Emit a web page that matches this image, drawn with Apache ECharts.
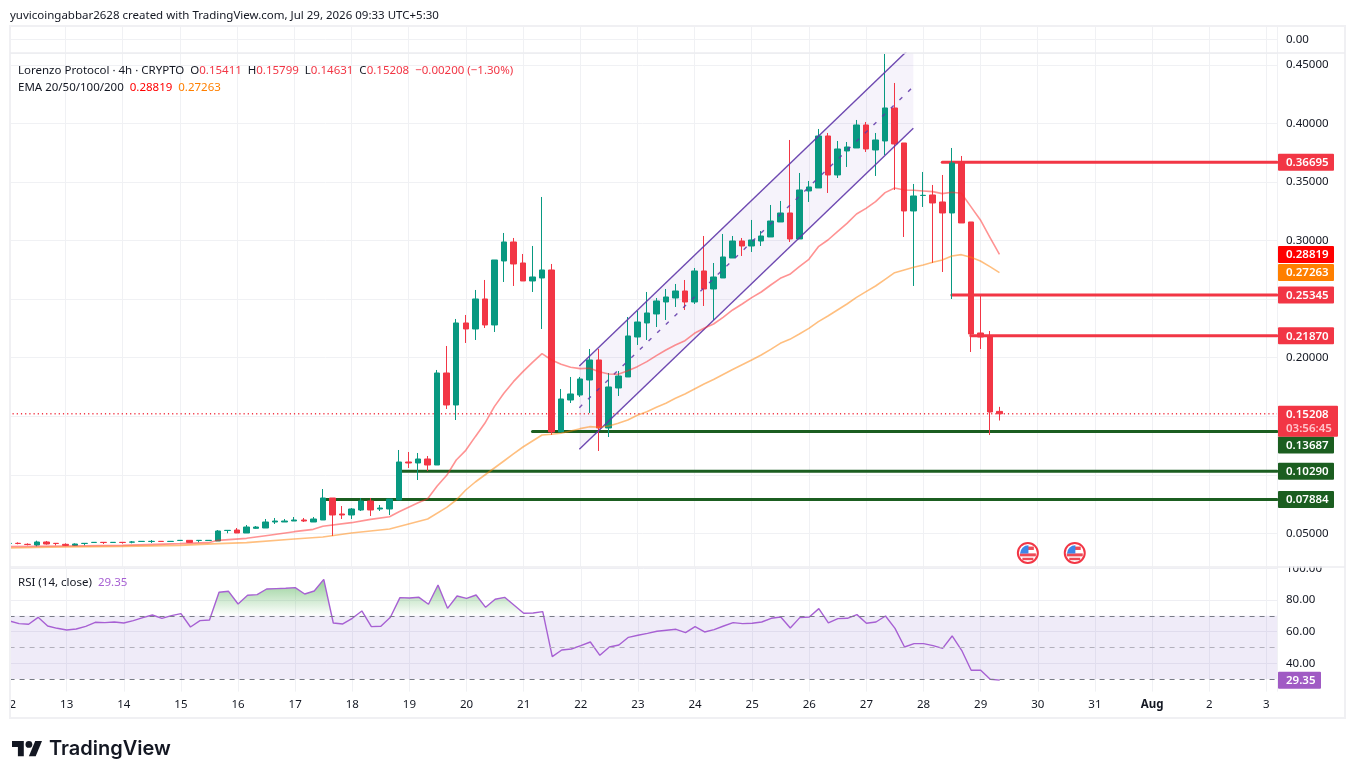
<!DOCTYPE html>
<html><head><meta charset="utf-8"><title>Lorenzo Protocol</title>
<style>html,body{margin:0;padding:0;background:#fff}#c{width:1355px;height:779px}</style>
<script src="https://cdn.jsdelivr.net/npm/echarts@6/dist/echarts.min.js"></script></head>
<body><div id="c"></div>
<script>
const opens=[.0413,.04143,.04058,.04000,.04257,.04143,.04058,.03972,.04130,.04215,.04228,.04215,.04228,.04245,.04300,.04300,.04313,.04300,.04385,.04399,.04385,.04385,.04342,.05240,.05281,.05025,.05424,.05452,.05965,.05965,.06050,.06136,.05965,.06136,.08015,.06648,.06563,.06990,.07758,.07075,.07075,.07844,.11089,.11004,.11346,.10833,.18691,.15958,.22962,.22449,.25012,.22791,.28258,.29880,.28087,.26549,.26806,.27489,.13652,.16385,.16812,.18093,.19802,.13994,.17410,.18350,.21766,.22962,.23731,.24756,.25097,.25694,.24755,.27403,.25865,.26805,.28513,.29965,.29538,.29965,.30307,.31588,.32357,.30136,.34236,.34492,.38933,.35602,.37652,.37909,.39873,.37738,.38506,.41325,.38336,.32528,.33850,.33894,.33296,.32357,.36627,.31588,.22107,.21765,.15411];
const closes=[.0414,.04130,.04045,.04257,.04085,.04130,.03972,.04085,.04143,.04228,.04215,.04228,.04215,.04257,.04313,.04313,.04300,.04313,.04399,.04228,.04399,.04399,.05196,.05253,.05025,.05537,.05537,.05965,.06050,.06050,.06136,.06050,.06221,.08015,.06563,.06563,.07075,.07758,.06990,.07160,.07929,.11089,.11004,.11346,.10833,.18691,.15958,.22962,.22449,.25012,.22791,.28343,.29880,.28001,.26549,.26891,.27489,.13652,.16471,.16898,.18179,.19802,.13994,.17496,.18435,.21852,.23047,.23816,.24841,.25183,.25695,.24755,.27403,.25865,.26890,.28599,.29965,.29538,.30051,.30392,.31673,.32357,.30136,.34321,.34577,.38933,.35602,.37823,.37994,.39873,.37823,.38592,.41325,.38250,.32528,.33809,.33866,.33211,.32357,.36627,.31503,.22022,.21765,.15359,.15208];
const lows=[.0406,.04058,.03972,.03886,.04029,.03972,.03915,.03915,.03972,.04215,.04085,.04215,.04114,.04143,.04300,.04171,.04300,.04300,.04385,.04228,.04228,.04385,.04342,.05003,.05025,.05025,.05367,.05452,.05794,.05965,.06050,.05965,.05965,.06136,.04769,.06221,.06221,.06904,.06477,.06904,.06563,.07844,.10577,.09552,.10321,.10833,.15616,.14677,.21254,.21510,.22535,.22193,.26464,.26122,.26549,.25610,.22449,.13396,.13652,.16129,.16641,.15275,.12029,.13225,.16727,.18350,.21083,.21510,.22620,.23218,.24329,.24072,.24584,.24413,.23217,.26805,.28513,.28684,.29026,.29538,.30307,.31588,.29880,.30136,.33296,.34492,.34065,.35346,.36286,.37909,.37567,.35517,.37311,.34321,.30307,.26122,.32869,.28086,.27317,.25011,.31503,.20484,.20741,.13395,.14631];
const highs=[.0417,.04228,.04143,.04370,.04342,.04143,.04143,.04143,.04143,.04228,.04228,.04228,.04228,.04342,.04313,.04427,.04313,.04313,.04399,.04399,.04399,.04399,.05281,.05281,.05452,.05708,.05623,.06221,.06307,.06221,.06392,.06307,.06392,.08783,.08015,.07331,.07160,.08015,.08015,.07417,.07929,.12114,.11944,.11858,.11602,.18948,.20997,.23304,.23645,.25781,.26635,.28343,.30649,.30222,.28855,.29539,.33724,.28001,.17325,.18350,.18350,.20741,.20741,.18691,.18862,.23474,.23987,.25610,.25097,.25866,.26293,.26634,.27659,.30392,.28086,.30563,.30392,.30221,.31759,.30819,.33040,.33382,.38592,.35773,.35090,.39531,.39190,.38506,.38421,.40300,.40129,.39190,.45937,.43460,.38336,.34834,.35859,.34748,.35602,.37909,.37225,.31588,.25267,.22278,.15799];

const ema20Slots=[0,6,12,18,21,22,25,27,30,32,33,36,38,40,41,43,44,45,46,47,48,49,50,51,52,53,54,55,56,57,58,59,60,61,62,63,64,65,66,67,68,69,70,71,72,73,74,75,76,77,78,79,80,81,82,83,84,85,86,87,88,89,90,91,92,93,94,95,96,97,98,99,100,101,102,103,104];
const ema20Values=[.03858,.03915,.03972,.04114,.04200,.04399,.04570,.04797,.05139,.05338,.05595,.05908,.06192,.06420,.06847,.07616,.07958,.09040,.09951,.11260,.12086,.13253,.14392,.15816,.16955,.17951,.18805,.19602,.20343,.19802,.19432,.19175,.19061,.19090,.18805,.18606,.18577,.18891,.19232,.19659,.20172,.20656,.21083,.21452,.22079,.22506,.22876,.23445,.24072,.24584,.25125,.25609,.26207,.26776,.27118,.27773,.28399,.29481,.30051,.30762,.31474,.32271,.32755,.33325,.34093,.34492,.34321,.34293,.34236,.34179,.34008,.34122,.34036,.32898,.31759,.30278,.28819];
const ema50Slots=[0,6,12,18,22,25,30,33,36,40,44,46,47,48,49,50,51,52,53,54,55,56,57,58,59,60,61,62,63,64,65,66,67,68,69,70,71,72,73,74,75,76,77,78,79,80,81,82,83,84,85,86,87,88,89,90,91,92,93,94,95,96,97,98,99,100,101,102,103,104];
const ema50Values=[.03744,.03829,.03886,.03972,.04114,.04200,.04513,.04684,.05025,.05367,.06221,.07217,.07844,.08698,.09381,.09979,.10577,.11175,.11774,.12371,.12883,.13396,.13453,.13538,.13737,.13937,.14107,.14051,.14164,.14392,.14677,.15075,.15389,.15759,.16100,.16527,.16898,.17325,.17752,.18136,.18563,.18982,.19401,.19802,.20229,.20712,.21225,.21566,.22022,.22506,.23075,.23559,.24072,.24584,.25154,.25638,.26122,.26691,.27260,.27488,.27716,.27915,.28143,.28342,.28684,.28798,.28570,.28257,.27773,.27263];
const rsiValues=[66.73,65.05,64.63,69.05,63.57,62.10,61.05,61.68,63.36,65.89,65.68,66.10,65.47,66.94,68.84,70.53,68.42,70.10,71.37,62.94,66.94,67.37,84.85,85.48,77.48,82.95,83.37,86.95,87.17,87.38,87.80,83.79,85.69,93.06,65.47,64.84,68.42,73.05,63.15,63.36,69.05,81.48,81.27,81.69,77.27,89.48,74.74,82.53,81.06,83.16,75.37,80.43,81.69,76.63,71.58,71.79,72.63,44.20,48.41,49.04,51.15,53.46,45.04,50.30,51.57,56.41,57.68,58.94,60.21,60.84,61.47,59.36,63.15,59.78,61.26,63.57,65.68,65.05,65.26,66.10,68.42,69.26,62.31,68.84,69.26,74.53,65.47,68.21,68.42,70.74,65.26,66.10,69.89,62.10,50.30,52.41,52.41,51.15,49.46,57.26,48.20,35.56,35.56,29.87,29.35];

const resistanceLevels=[.36695,.25345,.21870];
const resistanceSlots=[98,99,101];
const supportLevels=[.13687,.10290,.07884];
const supportSlots=[55,41,33];
const channelDays=[21.986,27.827];
const channelLow=[.12175,.39592];
const channelMid=[.15732,.43149];
const channelHigh=[.19289,.46706];
const eventDays=[29.83,30.65];
const eventLevel=.0332;
const priceGrid=[.05,.10,.15,.20,.25,.30,.35,.40,.45];
const priceLabels=[.05,.20,.30,.35,.40,.45];
const rsiTicks=[40,60,80,100];
const rsiBand=[30,70];
const rsiMid=50;
const lastClose=.15208, lastEma20=.28819, lastEma50=.27263, lastRsi=29.35;
const countdown='03:56:45';

const FONT='"Noto Sans"';
const FS=11.5;
const GRID='#f0f1f4';
const UP='#089981',DOWN='#f23645',DARKGREEN='#1b5e20';
const MINX=12,MAXX=34.187;
const day=i=>12+i/6;
const pairs=(s,v)=>s.map((k,i)=>[day(k),v[i]]);

const dayLabel=v=>{
  if(!Number.isInteger(v))return '';
  if(v===32)return '{b|Aug}';
  return String(v>32?v-31:v);
};
const xAxis=(g,labels)=>({type:'value',gridIndex:g,min:MINX,max:MAXX,interval:1,
  axisLine:{show:false},axisTick:{show:false},
  splitLine:{show:true,lineStyle:{color:GRID,width:1}},
  axisLabel:labels?{show:true,margin:7,color:'#131722',fontFamily:FONT,fontSize:FS,showMaxLabel:false,formatter:dayLabel,
    rich:{b:{fontFamily:FONT,fontSize:FS,fontWeight:'bold',color:'#131722'}}}:{show:false}});

const fx=(v,d)=>v.toFixed(d);
const tagFont='600 '+FS+'px '+FONT;
function tagItem(p,dy,w,color,text){
  return {type:'group',children:[
    {type:'rect',shape:{x:p[0]+1,y:p[1]-8.5+dy,width:w,height:17,r:1},style:{fill:color}},
    {type:'text',style:{text,x:p[0]+9,y:p[1]+dy+.5,fill:'#fff',font:tagFont,verticalAlign:'middle',textAlign:'left'}}
  ]};
}
const priceTags=[
  {v:resistanceLevels[0],c:DOWN},{v:lastEma20,c:'#ff0000'},{v:lastEma50,c:'#ff7f00'},
  {v:resistanceLevels[1],c:DOWN},{v:resistanceLevels[2],c:DOWN},
  {v:supportLevels[0],c:DARKGREEN,dy:13.5},{v:supportLevels[1],c:DARKGREEN},{v:supportLevels[2],c:DARKGREEN}
];

const hline=(lvl,slot,color)=>({type:'line',xAxisIndex:0,yAxisIndex:0,z:2,silent:true,showSymbol:false,symbol:'none',
  data:[[day(slot),lvl],[MAXX,lvl]],lineStyle:{color,width:3,cap:'round'},animation:false});

const series=[
  {type:'custom',xAxisIndex:0,yAxisIndex:0,z:1,clip:true,silent:true,data:[0],
   renderItem:(p,api)=>({type:'polygon',shape:{points:[
     api.coord([channelDays[0],channelLow[0]]),api.coord([channelDays[1],channelLow[1]]),
     api.coord([channelDays[1],channelHigh[1]]),api.coord([channelDays[0],channelHigh[0]])]},
     style:{fill:'rgba(103,58,183,0.06)'}})},
  {type:'line',xAxisIndex:0,yAxisIndex:0,z:1,silent:true,symbol:'none',data:[[MINX,lastClose],[MAXX,lastClose]],
   lineStyle:{color:DOWN,width:1.4,type:[1.2,3]}},
  ...resistanceLevels.map((l,i)=>hline(l,resistanceSlots[i],DOWN)),
  ...supportLevels.map((l,i)=>hline(l,supportSlots[i],DARKGREEN)),
  {type:'candlestick',xAxisIndex:0,yAxisIndex:0,z:3,silent:true,barWidth:6,encode:{x:0,y:[1,2,3,4]},
   data:opens.map((o,i)=>[day(i),o,closes[i],lows[i],highs[i]]),
   itemStyle:{color:UP,color0:DOWN,borderColor:UP,borderColor0:DOWN,borderColorDoji:UP,borderWidth:1}},
  ...[channelLow,channelHigh].map(a=>({type:'line',xAxisIndex:0,yAxisIndex:0,z:4,silent:true,symbol:'none',
     data:[[channelDays[0],a[0]],[channelDays[1],a[1]]],lineStyle:{color:'#5e35a8',width:1.4,opacity:.9}})),
  {type:'line',xAxisIndex:0,yAxisIndex:0,z:4,silent:true,symbol:'none',
     data:[[channelDays[0],channelMid[0]],[channelDays[1],channelMid[1]]],lineStyle:{color:'#5e35a8',width:1.4,type:[4,8],opacity:.85}},
  {type:'line',xAxisIndex:0,yAxisIndex:0,z:5,silent:true,symbol:'none',data:pairs(ema20Slots,ema20Values),lineStyle:{color:'rgba(255,40,40,0.5)',width:1.6}},
  {type:'line',xAxisIndex:0,yAxisIndex:0,z:5,silent:true,symbol:'none',data:pairs(ema50Slots,ema50Values),lineStyle:{color:'rgba(255,127,0,0.5)',width:1.6}},
  {type:'custom',xAxisIndex:0,yAxisIndex:0,z:6,silent:true,clip:false,data:eventDays.map(d=>[d,eventLevel]),
   encode:{x:0,y:1},
   renderItem:(p,api)=>{
     const c=api.coord([api.value(0),api.value(1)]),x=c[0],y=c[1];
     return {type:'group',children:[
       {type:'circle',shape:{cx:x,cy:y,r:10},style:{fill:'#fff',stroke:DOWN,lineWidth:2}},
       {type:'rect',shape:{x:x,y:y-6.4,width:6,height:3.4},style:{fill:'#ee4a56'}},
       {type:'rect',shape:{x:x-8,y:y+0.4,width:16,height:3},style:{fill:'#ee4a56'}},
       {type:'rect',shape:{x:x-5.5,y:y+4.8,width:11,height:2.4},style:{fill:'#ee4a56'}},
       {type:'sector',shape:{cx:x+.6,cy:y+.6,r:8.4,r0:0,startAngle:Math.PI,endAngle:Math.PI*1.5},style:{fill:'#3f86e8'}}
     ]};
   }},
  {type:'custom',xAxisIndex:0,yAxisIndex:0,z:7,silent:true,clip:false,data:priceTags.map(t=>[MAXX,t.v]),encode:{x:0,y:1},
   renderItem:(p,api)=>{const t=priceTags[p.dataIndex];return tagItem(api.coord([MAXX,t.v]),t.dy||0,56,t.c,fx(t.v,5));}},
  {type:'custom',xAxisIndex:0,yAxisIndex:0,z:8,silent:true,clip:false,data:[[MAXX,lastClose]],encode:{x:0,y:1},
   renderItem:(p,api)=>{const c=api.coord([MAXX,lastClose]);return {type:'group',children:[
     {type:'rect',shape:{x:c[0]+1,y:c[1]-8,width:60,height:31,r:1},style:{fill:DOWN}},
     {type:'text',style:{text:fx(lastClose,5),x:c[0]+9,y:c[1]+.5,fill:'#fff',font:tagFont,verticalAlign:'middle'}},
     {type:'text',style:{text:countdown,x:c[0]+9,y:c[1]+14.5,fill:'#ffc4cb',font:tagFont,verticalAlign:'middle'}}
   ]};}},
  {type:'line',xAxisIndex:1,yAxisIndex:1,z:3,silent:true,symbol:'none',
   data:rsiValues.map((v,i)=>[day(i),v]),
   lineStyle:{color:'#a760d3',width:1.4},
   areaStyle:{origin:rsiBand[1],color:{type:'linear',global:true,x:0,y:584,x2:0,y2:616,
     colorStops:[{offset:0,color:'rgba(76,175,80,0.75)'},{offset:1,color:'rgba(76,175,80,0)'}]}},
   markArea:{silent:true,itemStyle:{color:'rgba(126,87,194,0.12)'},data:[[{xAxis:MINX,yAxis:rsiBand[0]},{xAxis:MAXX,yAxis:rsiBand[1]}]]},
   markLine:{silent:true,symbol:'none',label:{show:false},animation:false,
     data:[{yAxis:rsiBand[1],lineStyle:{color:'#787b86',type:[5,5],width:1}},{yAxis:rsiMid,lineStyle:{color:'#b2b0bb',type:[5,5],width:1}},{yAxis:rsiBand[0],lineStyle:{color:'#787b86',type:[5,5],width:1}}]}},
  {type:'custom',xAxisIndex:1,yAxisIndex:1,z:7,silent:true,clip:false,data:[[MAXX,lastRsi]],encode:{x:0,y:1},
   renderItem:(p,api)=>tagItem(api.coord([MAXX,lastRsi]),0,43,'#a05bc4',fx(lastRsi,2))}
];

const txt=(left,top,text,rich)=>({type:'text',left,top,z:20,silent:true,
  style:{text,fill:'#131722',font:FS+'px '+FONT,rich}});
const R=c=>({fill:c,font:FS+'px '+FONT});
const legendRich={r:R('#f23645'),k:R('#131722'),o:R('#ff7f00'),e:R('#ff0000'),p:R('#a760d3')};
const yLabel={margin:9,color:'#131722',fontFamily:FONT,fontSize:FS,padding:[3,0,0,0]};

const option={
  backgroundColor:'#fff',animation:false,
  grid:[
    {left:8.32,width:1268.68,top:53,height:513.7},
    {left:8.32,width:1268.68,top:567,height:124.6},
    {left:8.32,width:1268.68,top:26,height:27}
  ],
  xAxis:[xAxis(0,false),xAxis(1,true),xAxis(2,false)],
  yAxis:[
    {type:'value',gridIndex:0,position:'right',min:.02147,max:.4602,
     axisLine:{show:false},axisTick:{show:false,customValues:priceGrid},
     splitLine:{show:true,lineStyle:{color:GRID}},
     axisLabel:Object.assign({customValues:priceLabels,formatter:v=>v.toFixed(5)},yLabel)},
    {type:'value',gridIndex:1,position:'right',min:22.1,max:100.85,
     axisLine:{show:false},axisTick:{show:false,customValues:rsiTicks},
     splitLine:{show:true,lineStyle:{color:'#eeeef3'}},
     axisLabel:Object.assign({customValues:rsiTicks,formatter:v=>v.toFixed(2)},yLabel)},
    {type:'value',gridIndex:2,position:'right',min:-1,max:1,interval:1,
     axisLine:{show:false},axisTick:{show:false},
     splitLine:{show:true,lineStyle:{color:GRID}},
     axisLabel:Object.assign({formatter:v=>v===0?'0.00':''},yLabel)}
  ],
  series,
  graphic:[
    {type:'rect',z:15,silent:true,shape:{x:0,y:0,width:10,height:779},style:{fill:'#fff'}},
    {type:'rect',z:15,silent:true,shape:{x:1278,y:556,width:66,height:10.5},style:{fill:'#fff'}},
    {type:'rect',z:16,silent:true,shape:{x:10,y:26,width:1335,height:692},style:{fill:'none',stroke:'#f0f0f3',lineWidth:2}},
    {type:'line',z:16,silent:true,shape:{x1:10,y1:53,x2:1345,y2:53},style:{stroke:'#ececf0',lineWidth:1.5}},
    {type:'line',z:16,silent:true,shape:{x1:10,y1:567,x2:1345,y2:567},style:{stroke:'#ececf0',lineWidth:1.5}},
    txt(10,10,'yuvicoingabbar2628 created with TradingView.com, Jul 29, 2026 09:33 UTC+5:30'),
    txt(18,65,'{k|Lorenzo Protocol · 4h · CRYPTO  O}{r|0.15411}{k|  H}{r|0.15799}{k|  L}{r|0.14631}{k|  C}{r|0.15208}{r|  −0.00200 (−1.30%)}',legendRich),
    txt(18,82,'{k|EMA 20/50/100/200  }{e|0.28819}{o|  0.27263}',legendRich),
    txt(18,577,'{k|RSI (14, close)  }{p|29.35}',legendRich),
    {type:'polygon',z:20,silent:true,shape:{points:[[12,741],[23.8,741],[23.8,756.2],[17.9,756.2],[17.9,747],[12,747]]},style:{fill:'#131722'}},
    {type:'polygon',z:20,silent:true,shape:{points:[[28.9,756.2],[35.2,741],[42,741],[35.7,756.2]]},style:{fill:'#131722'}},
    {type:'circle',z:20,silent:true,shape:{cx:28.9,cy:744.4,r:3.4},style:{fill:'#131722'}},
    {type:'text',left:49,top:739,z:20,silent:true,style:{text:'TradingView',fill:'#131722',font:'600 20px Inter'}}
  ]
};
const chart=echarts.init(document.getElementById('c'),null,{renderer:'canvas'});
chart.setOption(option);
</script></body></html>
